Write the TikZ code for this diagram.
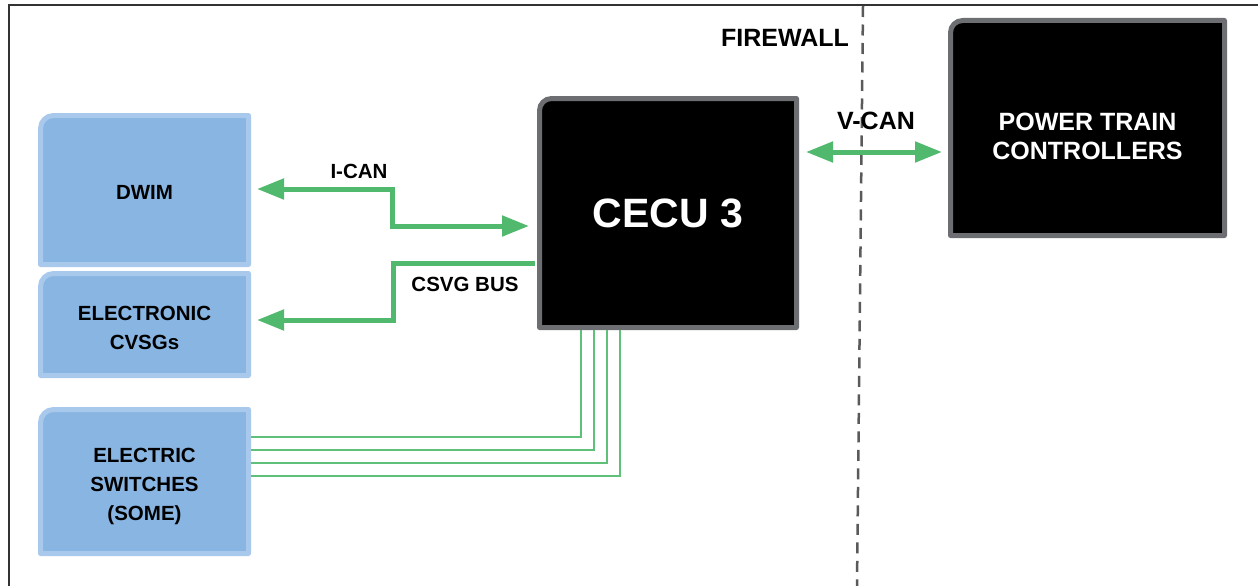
\documentclass[tikz,border=0pt]{standalone}
\usepackage{fontspec}
\setmainfont{Liberation Sans}
\usetikzlibrary{arrows.meta,backgrounds}
\definecolor{busgreen}{RGB}{80,185,110}
\definecolor{wiregreen}{RGB}{95,192,122}
\definecolor{boxblue}{RGB}{136,181,226}
\definecolor{boxblueedge}{RGB}{169,201,236}
\definecolor{boxgray}{RGB}{109,110,113}
\definecolor{fwgray}{RGB}{90,90,90}
\newcommand\tlbox[4]{%
  \draw[line width=5pt,line join=round,fill=#2,draw=#3]
    (#1.south west) -- ([yshift=-#4]#1.north west)
    arc[start angle=180,end angle=90,radius=#4]
    -- (#1.north east) -- (#1.south east) -- cycle;}
\begin{document}
\begin{tikzpicture}[x=1pt,y=-1pt,
  bluebox/.style={inner sep=0pt,outer sep=0pt,minimum width=208pt},
  bluetext/.style={inner sep=0pt,align=center,text=black,
    font=\bfseries\fontsize{20.5}{29}\selectfont},
  blackbox/.style={inner sep=0pt,outer sep=0pt,align=center,text=white},
  lbl/.style={inner sep=0pt,font=\bfseries\fontsize{20.5}{24}\selectfont},
  biglbl/.style={inner sep=0pt,font=\bfseries\fontsize{25}{29}\selectfont},
  bus/.style={busgreen,line width=5pt},
  wire/.style={wiregreen,line width=2pt},
  tip/.style={-{Triangle[length=27pt,width=20pt]}},
  tips/.style={{Triangle[length=27pt,width=20pt]}-{Triangle[length=27pt,width=20pt]}}]
\useasboundingbox (0,0) rectangle (1258,586);

% frame
\coordinate (frtl) at (9,5);
\coordinate (frtr) at (1258,5);
\coordinate (frbl) at (9,586);
\draw[line width=2pt,black!80] (frbl) -- (frtl) -- (frtr);

% boxes
\node[bluebox,minimum height=149pt] (dwim) at (144.5,190) {};
\node[bluebox,minimum height=102pt] (cvsg) at (144.5,324.5) {};
\node[bluebox,minimum height=144pt] (sw) at (144.5,481.5) {};
\node[blackbox,minimum width=257pt,minimum height=229pt,
  font=\bfseries\fontsize{41}{44}\selectfont] (cecu) at (668,213) {CECU 3};
\node[blackbox,minimum width=274pt,minimum height=215pt] (ptc) at (1087.5,128) {};

\begin{scope}[on background layer]
\tlbox{dwim}{boxblue}{boxblueedge}{13pt}
\tlbox{cvsg}{boxblue}{boxblueedge}{13pt}
\tlbox{sw}{boxblue}{boxblueedge}{13pt}
\tlbox{cecu}{black}{boxgray}{12pt}
\tlbox{ptc}{black}{boxgray}{12pt}
\end{scope}

\node[bluetext] (dwimtext) at (144.5,192) {DWIM};
\node[bluetext] (cvsgtext) at (144.5,327.5) {ELECTRONIC\\CVSGs};
\node[bluetext] (swtext) at (144.5,486) {ELECTRIC\\SWITCHES\\(SOME)};
\node[blackbox,font=\bfseries\fontsize{25}{29}\selectfont] (ptctext) at (1087.5,136) {POWER TRAIN\\CONTROLLERS};

% firewall
\coordinate (fwtop) at (863,6);
\coordinate (fwbot) at (857,586);
\draw[fwgray,line width=2.5pt,dash pattern=on 11pt off 7.5pt] (fwtop) -- (fwbot);
\node[biglbl] (fw) at (785,38) {FIREWALL};

% I-CAN
\draw[bus,tips,shorten <=8.5pt,shorten >=10.5pt]
  ([yshift=1pt]dwim.east) -- ++(143.5,0) |- ([yshift=-13pt]cecu.west);
\node[lbl] (ican) at (359,171) {I-CAN};

% CSVG BUS
\draw[bus,tip,shorten <=5pt,shorten >=8.5pt]
  ([yshift=-50pt]cecu.west) -- ++(-146.5,0) |- ([yshift=4.5pt]cvsg.east);
\node[lbl] (csvg) at (465,284) {CSVG BUS};

% V-CAN
\coordinate (vc) at ([yshift=61pt]cecu.east);
\draw[bus,tips,shorten <=9.5pt,shorten >=8.5pt] (vc) -- (vc -| ptc.west);
\node[biglbl] (vcan) at (876,121) {V-CAN};

% switch wires
\draw[wire,shorten <=2.5pt,shorten >=2.5pt] ([yshift=44.5pt]sw.east) -| ([xshift=-87pt]cecu.south);
\draw[wire,shorten <=2.5pt,shorten >=2.5pt] ([yshift=31.5pt]sw.east) -| ([xshift=-74pt]cecu.south);
\draw[wire,shorten <=2.5pt,shorten >=2.5pt] ([yshift=18.5pt]sw.east) -| ([xshift=-61pt]cecu.south);
\draw[wire,shorten <=2.5pt,shorten >=2.5pt] ([yshift=5.5pt]sw.east) -| ([xshift=-48pt]cecu.south);
\end{tikzpicture}
\end{document}
